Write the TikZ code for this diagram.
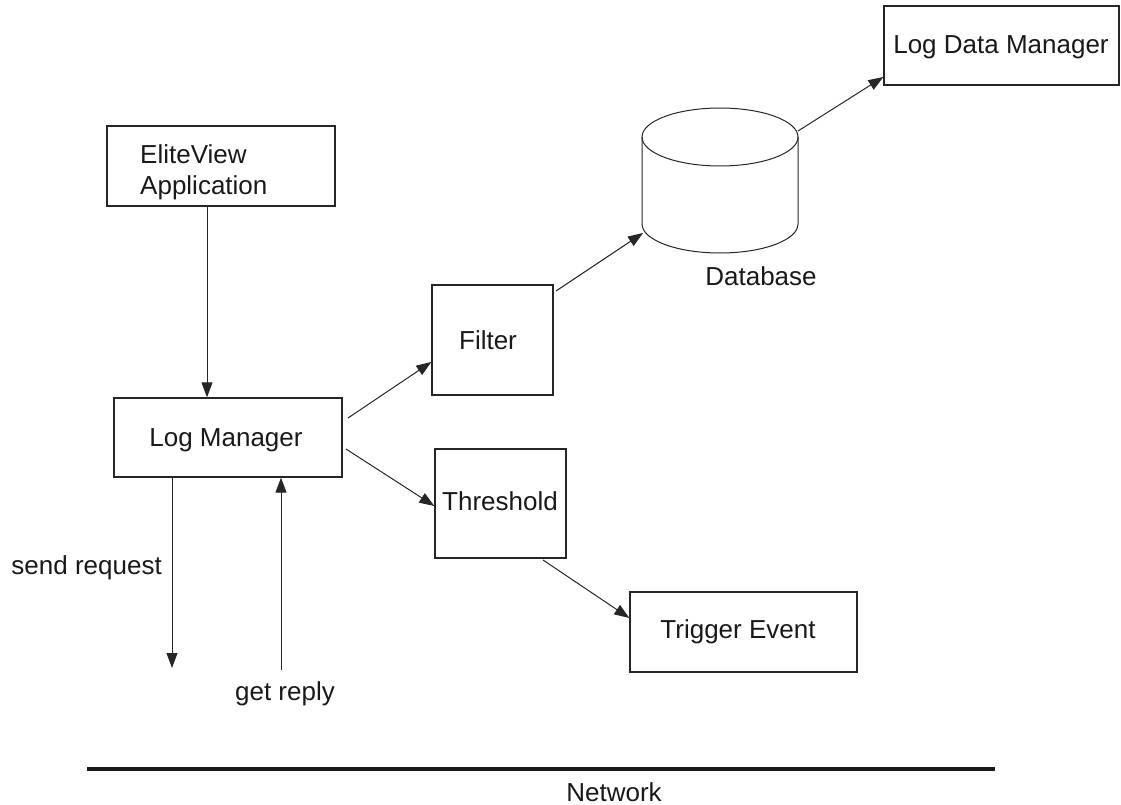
\documentclass[tikz,border=0pt]{standalone}
\usepackage{fontspec}
\setmainfont{Liberation Sans}
\usetikzlibrary{arrows.meta}
\begin{document}
\begin{tikzpicture}[x=1pt,y=-1pt,
  box/.style={draw=black!85,line width=1.3pt,inner sep=0pt},
  lbl/.style={font=\fontsize{26}{31}\selectfont,text=black!90,inner sep=0pt},
  conn/.style={draw=black!85,line width=1pt,-{Triangle[length=15pt,width=11pt]}}]
\useasboundingbox (0,0) rectangle (1121,805);
% boxes
\node[box,minimum width=228pt,minimum height=80pt] (elite) at (221,166) {};
\node[lbl,align=left,anchor=west] (elitet) at (140,172) {EliteView\\Application};
\node[box,minimum width=228pt,minimum height=79pt] (lm) at (228,437.5) {};
\node[lbl] (lmt) at (226,440) {Log Manager};
\node[box,minimum width=121pt,minimum height=110pt] (filter) at (492.5,340) {};
\node[lbl] (filtert) at (488,340) {Filter};
\node[box,minimum width=131pt,minimum height=109pt] (thr) at (500.5,503.5) {};
\node[lbl] (thrt) at (500,501) {Threshold};
\node[box,minimum width=227pt,minimum height=80pt] (trig) at (743.5,632) {};
\node[lbl] (trigt) at (738,632) {Trigger Event};
\node[box,minimum width=235pt,minimum height=79pt] (ldm) at (1001.5,45.5) {};
\node[lbl] (ldmt) at (1001,47) {Log Data Manager};
% database cylinder
\coordinate (dbtl) at (642,137);
\coordinate (dbtr) at (798,137);
\coordinate (dbbl) at (642,224);
\coordinate (dbbr) at (798,224);
\draw[black!85,line width=1pt] (720,137) ellipse [x radius=78, y radius=29];
\draw[black!85,line width=1pt] (dbtl) -- (dbbl) arc[start angle=180,end angle=360,x radius=78,y radius=-29] -- (dbtr);
\node[lbl] (dbt) at (761,276) {Database};
\coordinate (dbin) at (643,233);
\coordinate (dbout) at (798,131);
% connectors
\draw[conn] (elite.south -| 207,0) -- (lm.north -| 207,0);
\coordinate (lmf) at (348,418);
\coordinate (lmt2) at (346,449);
\draw[conn] (lmf) -- (filter.west |- 0,362);
\draw[conn] (lmt2) -- (thr.west |- 0,506);
\coordinate (thro) at (543,560);
\draw[conn] (thro) -- (trig.west |- 0,618);
\coordinate (filo) at (556,291);
\draw[conn] (filo) -- (dbin);
\draw[conn] (dbout) -- (ldm.west |- 0,77);
% request / reply
\coordinate (req) at (172,668);
\coordinate (rep) at (281,670);
\draw[conn] (lm.south -| 172,0) -- (req);
\draw[conn] (rep) -- (lm.south -| 281,0);
\node[lbl,anchor=east] (reqt) at (162,568) {send request};
\node[lbl] (rept) at (285,694) {get reply};
% network
\coordinate (n1) at (87,769);
\coordinate (n2) at (995,769);
\draw[black!90,line width=4.5pt] (n1) -- (n2);
\node[lbl] (nett) at (614,792) {Network};
\end{tikzpicture}
\end{document}
